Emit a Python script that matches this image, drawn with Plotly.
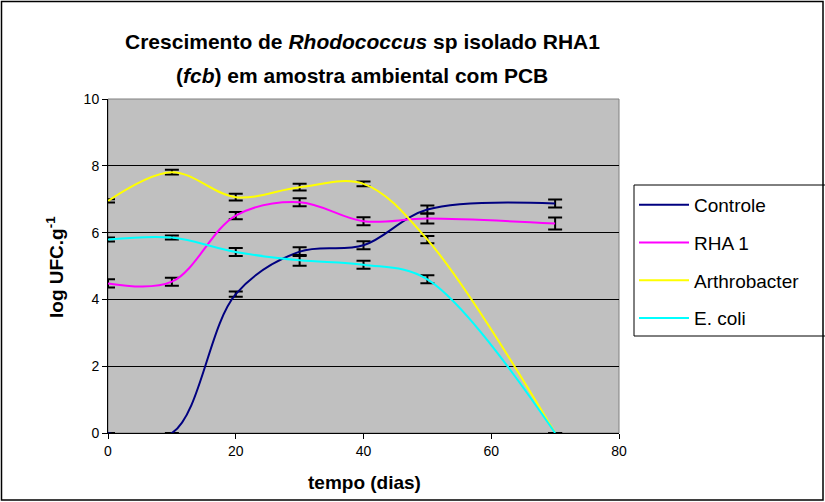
import plotly.graph_objects as go

dias = [0, 10, 20, 30, 40, 50, 70]

controle = [0, 0, 4.16, 5.43, 5.62, 6.69, 6.87]
controle_err = [0, 0, 0.08, 0.13, 0.12, 0.12, 0.12]

rha1 = [4.48, 4.53, 6.51, 6.91, 6.34, 6.42, 6.27]
rha1_err = [0.12, 0.12, 0.11, 0.12, 0.12, 0.15, 0.18]

arthrobacter = [6.95, 7.81, 7.06, 7.36, 7.46, 5.79, 0]
arthrobacter_err = [0.05, 0.07, 0.1, 0.1, 0.07, 0.11, 0]

ecoli = [5.79, 5.85, 5.42, 5.17, 5.04, 4.60, 0]
ecoli_err = [0.06, 0.06, 0.12, 0.16, 0.12, 0.12, 0]

series = [
    ("Controle", controle, controle_err, "#000080"),
    ("RHA 1", rha1, rha1_err, "#FF00FF"),
    ("Arthrobacter", arthrobacter, arthrobacter_err, "#FFFF00"),
    ("E. coli", ecoli, ecoli_err, "#00FFFF"),
]

x_ticks = [0, 20, 40, 60, 80]
y_ticks = [0, 2, 4, 6, 8, 10]

title_line1 = "<b>Crescimento de <i>Rhodococcus</i> sp isolado RHA1</b>"
title_line2 = "<b>(<i>fcb</i>) em amostra ambiental com PCB</b>"
x_title = "<b>tempo (dias)</b>"
y_title = "<b>log UFC.g<sup>-1</sup></b>"

FONT = "Arial, Liberation Sans, sans-serif"
W, H = 825, 502
L, R, T, B = 108, 206, 99, 69
pw, ph = W - L - R, H - T - B


def px_x(p):
    return (p - L) / pw


def px_y(p):
    return (H - B - p) / ph


fig = go.Figure()
for name, vals, errs, color in series:
    fig.add_trace(go.Scatter(
        x=dias, y=vals, name=name, mode="lines",
        line=dict(color=color, width=2, shape="spline", smoothing=1),
        error_y=dict(type="data", array=errs, visible=True, color="black",
                     thickness=2, width=7),
        legendgroup=name,
    ))

fig.update_layout(
    width=W, height=H,
    margin=dict(l=L, r=R, t=T, b=B, autoexpand=False),
    paper_bgcolor="white",
    plot_bgcolor="#C0C0C0",
    font=dict(family=FONT, color="black", size=13),
    xaxis=dict(
        range=[0, 80], tickvals=x_ticks, ticktext=[str(v) for v in x_ticks],
        showgrid=False, zeroline=False, showline=True, linecolor="black", linewidth=1,
        ticks="outside", ticklen=5, tickcolor="black",
        tickfont=dict(size=14), automargin=False,
    ),
    yaxis=dict(
        range=[0, 10], tickvals=y_ticks, ticktext=[str(v) for v in y_ticks],
        showgrid=True, gridcolor="black", gridwidth=1, zeroline=False,
        showline=True, linecolor="black", linewidth=1,
        ticks="outside", ticklen=5, tickcolor="black",
        tickfont=dict(size=14), automargin=False,
    ),
    legend=dict(
        xref="paper", yref="paper",
        x=px_x(634), y=px_y(186), xanchor="left", yanchor="top",
        bgcolor="rgba(0,0,0,0)", borderwidth=0,
        font=dict(size=19, family=FONT),
        tracegroupgap=10, itemwidth=50,
    ),
    showlegend=True,
    annotations=[
        dict(text=title_line1, xref="paper", yref="paper", x=px_x(362), y=px_y(41),
             xanchor="center", yanchor="middle", showarrow=False,
             font=dict(size=21, family=FONT)),
        dict(text=title_line2, xref="paper", yref="paper", x=px_x(362), y=px_y(75),
             xanchor="center", yanchor="middle", showarrow=False,
             font=dict(size=21, family=FONT)),
        dict(text=x_title, xref="paper", yref="paper", x=px_x(364), y=px_y(482),
             xanchor="center", yanchor="middle", showarrow=False,
             font=dict(size=19, family=FONT)),
        dict(text=y_title, xref="paper", yref="paper", x=px_x(55), y=px_y(267),
             xanchor="center", yanchor="middle", showarrow=False, textangle=-90,
             font=dict(size=19, family=FONT)),
    ],
    shapes=[
        dict(type="rect", xref="paper", yref="paper",
             x0=0, x1=1, y0=0, y1=1, line=dict(color="#808080", width=1), layer="below"),
        dict(type="rect", xref="paper", yref="paper",
             x0=px_x(634), x1=px_x(840), y0=px_y(336), y1=px_y(185),
             fillcolor="white", line=dict(color="black", width=1), layer="above"),
        dict(type="rect", xref="paper", yref="paper",
             x0=px_x(1.5), x1=px_x(823), y0=px_y(500), y1=px_y(1.5),
             line=dict(color="black", width=1.5), layer="above"),
    ],
)

fig.write_html(
    "out.html",
    config={"displayModeBar": False},
    post_script="document.body.style.margin='0px';document.body.style.overflow='hidden';",
)
